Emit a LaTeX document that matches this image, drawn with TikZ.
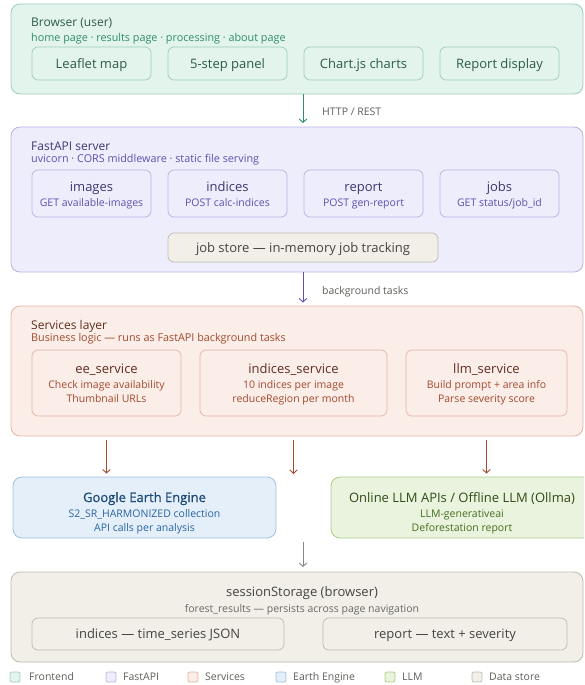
\documentclass[tikz,border=0pt]{standalone}
\usepackage{fontspec}
\setmainfont{Open Sans}
\newfontfamily\semibold[FakeBold=0.6]{Open Sans}
\usetikzlibrary{calc}
\usetikzlibrary{arrows.meta}

% palette
\definecolor{frontfill}{HTML}{E2F4EC}
\definecolor{frontline}{HTML}{9FCDBB}
\definecolor{frontdark}{HTML}{2E5A4C}
\definecolor{frontsub}{HTML}{2F8C6B}
\definecolor{apifill}{HTML}{EEEDFC}
\definecolor{apiline}{HTML}{B6B2E2}
\definecolor{apidark}{HTML}{3C3770}
\definecolor{apisub}{HTML}{5A52B0}
\definecolor{svcfill}{HTML}{FBEDE7}
\definecolor{svcline}{HTML}{E2B6A5}
\definecolor{svcdark}{HTML}{5E2E20}
\definecolor{svcsub}{HTML}{A34A2E}
\definecolor{geefill}{HTML}{E4EFFA}
\definecolor{geeline}{HTML}{9DC0E4}
\definecolor{geedark}{HTML}{1E4A78}
\definecolor{geesub}{HTML}{2A64A0}
\definecolor{llmfill}{HTML}{E9F3DD}
\definecolor{llmline}{HTML}{A9CC84}
\definecolor{llmdark}{HTML}{2E4E16}
\definecolor{llmsub}{HTML}{44701E}
\definecolor{storefill}{HTML}{F1EFE8}
\definecolor{storeline}{HTML}{BDBAB0}
\definecolor{storedark}{HTML}{45443F}
\definecolor{storesub}{HTML}{6A6963}
\definecolor{notegray}{HTML}{5F5E5A}

\tikzset{
  container/.style={draw, rounded corners=9pt, line width=0.8pt, inner sep=0pt},
  box/.style={draw, rounded corners=6pt, line width=0.7pt, inner sep=0pt},
  head/.style={anchor=base west, inner sep=0pt, font=\fontsize{12}{14}\selectfont},
  sub/.style={anchor=base west, inner sep=0pt, font=\fontsize{10.8}{13}\selectfont},
  lbl/.style={anchor=base, inner sep=0pt, font=\fontsize{13}{15}\selectfont},
  note/.style={anchor=base, inner sep=0pt, font=\fontsize{10.5}{12}\selectfont},
  key/.style={draw, rounded corners=2pt, line width=0.7pt, minimum size=10pt, inner sep=0pt},
  flow/.style={-{Straight Barb[length=3.5pt,width=7.5pt]}, line width=0.9pt},
}

\begin{document}
\begin{tikzpicture}[x=1pt, y=-1pt]
    \useasboundingbox (0,0) rectangle (584,685);
    \clip (0,0) rectangle (584,685);

    % layer containers
    \node[container, draw=frontline, fill=frontfill, minimum width=572pt, minimum height=90pt] (browser) at (297,49) {};
    \node[container, draw=apiline, fill=apifill, minimum width=572pt, minimum height=145pt] (fastapi) at (297,199.5) {};
    \node[container, draw=svcline, fill=svcfill, minimum width=572pt, minimum height=130pt] (services) at (297,371) {};
    \node[container, draw=geeline, fill=geefill, minimum width=263pt, minimum height=61pt] (gee) at (144.5,507.5) {};
    \node[container, draw=llmline, fill=llmfill, minimum width=262pt, minimum height=61pt] (llm) at (462,507.5) {};
    \node[container, draw=storeline, fill=storefill, minimum width=572pt, minimum height=90pt] (session) at (297,617) {};

    % browser layer
    \node[head, text=frontdark] (browsertitle) at (31,27) {Browser (user)};
    \node[sub, text=frontsub] (browsersub) at (31,41.5) {home page · results page · processing · about page};
    \node[box, draw=frontline, fill=frontfill, minimum width=119pt, minimum height=33pt] (leaflet) at (91.5,63.5) {};
    \node[box, draw=frontline, fill=frontfill, minimum width=119pt, minimum height=33pt] (stepper) at (227.5,63.5) {};
    \node[box, draw=frontline, fill=frontfill, minimum width=119pt, minimum height=33pt] (charts) at (363.5,63.5) {};
    \node[box, draw=frontline, fill=frontfill, minimum width=119pt, minimum height=33pt] (display) at (499.5,63.5) {};
    \node[lbl, text=frontdark] (leaflettxt) at ($(leaflet)+(0,4.5)$) {Leaflet map};
    \node[lbl, text=frontdark] (steppertxt) at ($(stepper)+(0,4.5)$) {5-step panel};
    \node[lbl, text=frontdark] (chartstxt) at ($(charts)+(0,4.5)$) {Chart.js charts};
    \node[lbl, text=frontdark] (displaytxt) at ($(display)+(0,4.5)$) {Report display};

    % fastapi layer
    \node[head, text=apidark] (apititle) at (31,150) {FastAPI server};
    \node[sub, text=apisub] (apisubt) at (31,162.5) {uvicorn · CORS middleware · static file serving};
    \node[box, draw=apiline, fill=apifill, minimum width=119pt, minimum height=47pt] (images) at (91.5,193.5) {};
    \node[box, draw=apiline, fill=apifill, minimum width=119pt, minimum height=47pt] (indices) at (227.5,193.5) {};
    \node[box, draw=apiline, fill=apifill, minimum width=119pt, minimum height=47pt] (report) at (363.5,193.5) {};
    \node[box, draw=apiline, fill=apifill, minimum width=119pt, minimum height=47pt] (jobs) at (499.5,193.5) {};
    \node[lbl, text=apidark] (imagestxt) at ($(images)+(0,-2.5)$) {images};
    \node[note, text=apisub] (imagesep) at ($(images)+(0,13)$) {GET available-images};
    \node[lbl, text=apidark] (indicestxt) at ($(indices)+(0,-2.5)$) {indices};
    \node[note, text=apisub] (indicesep) at ($(indices)+(0,13)$) {POST calc-indices};
    \node[lbl, text=apidark] (reporttxt) at ($(report)+(0,-2.5)$) {report};
    \node[note, text=apisub] (reportep) at ($(report)+(0,13)$) {POST gen-report};
    \node[lbl, text=apidark] (jobstxt) at ($(jobs)+(0,-2.5)$) {jobs};
    \node[note, text=apisub] (jobsep) at ($(jobs)+(0,13)$) {GET status/job\_id};
    \node[box, draw=storeline, fill=storefill, minimum width=270pt, minimum height=29pt] (jobstore) at (303,247.5) {};
    \node[lbl, text=storedark] (jobstoretxt) at ($(jobstore)+(0,4.5)$) {job store — in-memory job tracking};

    % services layer
    \node[head, text=svcdark] (svctitle) at (31,329) {Services layer};
    \node[sub, text=svcsub] (svcsubt) at (31,341.5) {Business logic — runs as FastAPI background tasks};
    \node[box, draw=svcline, fill=svcfill, minimum width=149pt, minimum height=66pt] (eesvc) at (106.5,383) {};
    \node[box, draw=svcline, fill=svcfill, minimum width=187pt, minimum height=66pt] (idxsvc) at (293.5,383) {};
    \node[box, draw=svcline, fill=svcfill, minimum width=161pt, minimum height=66pt] (llmsvc) at (486.5,383) {};
    \node[lbl, text=svcdark] (eetxt) at ($(eesvc)+(0,-10)$) {ee\_service};
    \node[note, text=svcsub] (eeone) at ($(eesvc)+(0,5.5)$) {Check image availability};
    \node[note, text=svcsub] (eetwo) at ($(eesvc)+(0,19.5)$) {Thumbnail URLs};
    \node[lbl, text=svcdark] (idxtxt) at ($(idxsvc)+(0,-10)$) {indices\_service};
    \node[note, text=svcsub] (idxone) at ($(idxsvc)+(0,5.5)$) {10 indices per image};
    \node[note, text=svcsub] (idxtwo) at ($(idxsvc)+(0,19.5)$) {reduceRegion per month};
    \node[lbl, text=svcdark] (llmtxt) at ($(llmsvc)+(0,-10)$) {llm\_service};
    \node[note, text=svcsub] (llmone) at ($(llmsvc)+(0,5.5)$) {Build prompt + area info};
    \node[note, text=svcsub] (llmtwo) at ($(llmsvc)+(0,19.5)$) {Parse severity score};

    % external services
    \node[lbl, text=geedark] (geetxt) at ($(gee)+(0,-5.5)$) {\semibold Google Earth Engine};
    \node[note, text=geesub] (geeone) at ($(gee)+(0,10)$) {S2\_SR\_HARMONIZED collection};
    \node[note, text=geesub] (geetwo) at ($(gee)+(0,24)$) {API calls per analysis};
    \node[lbl, text=llmdark] (llmboxtxt) at ($(llm)+(0,-5.5)$) {Online LLM APIs / Offline LLM (Ollma)};
    \node[note, text=llmsub] (llmboxone) at ($(llm)+(0,10)$) {LLM-generativeai};
    \node[note, text=llmsub] (llmboxtwo) at ($(llm)+(0,24)$) {Deforestation report};

    % session storage
    \node[lbl, text=storedark, anchor=base] (storetitle) at (302,596) {sessionStorage (browser)};
    \node[note, text=storesub] (storesubt) at (302,612.5) {forest\_results — persists across page navigation};
    \node[box, draw=storeline, fill=storefill, minimum width=252pt, minimum height=32pt] (storeidx) at (158,634) {};
    \node[box, draw=storeline, fill=storefill, minimum width=244pt, minimum height=32pt] (storerep) at (445,634) {};
    \node[lbl, text=storedark] (storeidxtxt) at ($(storeidx)+(0,4.5)$) {indices — time\_series JSON};
    \node[lbl, text=storedark] (storereptxt) at ($(storerep)+(0,4.5)$) {report — text + severity};

    % connectors
    \coordinate (spine) at (303,0);
    \coordinate (idxend) at (293.5,474);
    \coordinate (storein) at (303,542);
    \draw[flow, frontsub] (browser.south -| spine) -- (fastapi.north -| spine) [shorten >=3.5pt];
    \draw[flow, apisub] (fastapi.south -| spine) -- (services.north -| spine) [shorten >=3pt];
    \node[note, text=notegray, anchor=base west] (httplbl) at (322,115.5) {HTTP / REST};
    \node[note, text=notegray, anchor=base west] (bglbl) at (322,294.5) {background tasks};
    \draw[flow, svcsub, shorten <=4pt, shorten >=3pt] (services.south -| eesvc) -- (gee.north -| eesvc);
    \draw[flow, svcsub, shorten <=4pt] (services.south -| idxsvc) -- (idxend);
    \draw[flow, svcsub, shorten <=4pt, shorten >=3pt] (services.south -| llmsvc) -- (llm.north -| llmsvc);
    \draw[flow, storesub!80, shorten >=4.5pt] (storein) -- (session.north -| storein);

    % legend
    \node[key, draw=frontline, fill=frontfill] (keyfront) at (15,677) {};
    \node[key, draw=apiline, fill=apifill] (keyapi) at (111,677) {};
    \node[key, draw=svcline, fill=svcfill] (keysvc) at (193,677) {};
    \node[key, draw=geeline, fill=geefill] (keygee) at (281,677) {};
    \node[key, draw=llmline, fill=llmfill] (keyllm) at (390,677) {};
    \node[key, draw=storeline, fill=storefill] (keystore) at (477,677) {};
    \node[note, text=notegray, anchor=base west] at ($(keyfront)+(14,3.5)$) {Frontend};
    \node[note, text=notegray, anchor=base west] at ($(keyapi)+(12,3.5)$) {FastAPI};
    \node[note, text=notegray, anchor=base west] at ($(keysvc)+(12,3.5)$) {Services};
    \node[note, text=notegray, anchor=base west] at ($(keygee)+(12,3.5)$) {Earth Engine};
    \node[note, text=notegray, anchor=base west] at ($(keyllm)+(12,3.5)$) {LLM};
    \node[note, text=notegray, anchor=base west] at ($(keystore)+(12,3.5)$) {Data store};
\end{tikzpicture}
\end{document}
